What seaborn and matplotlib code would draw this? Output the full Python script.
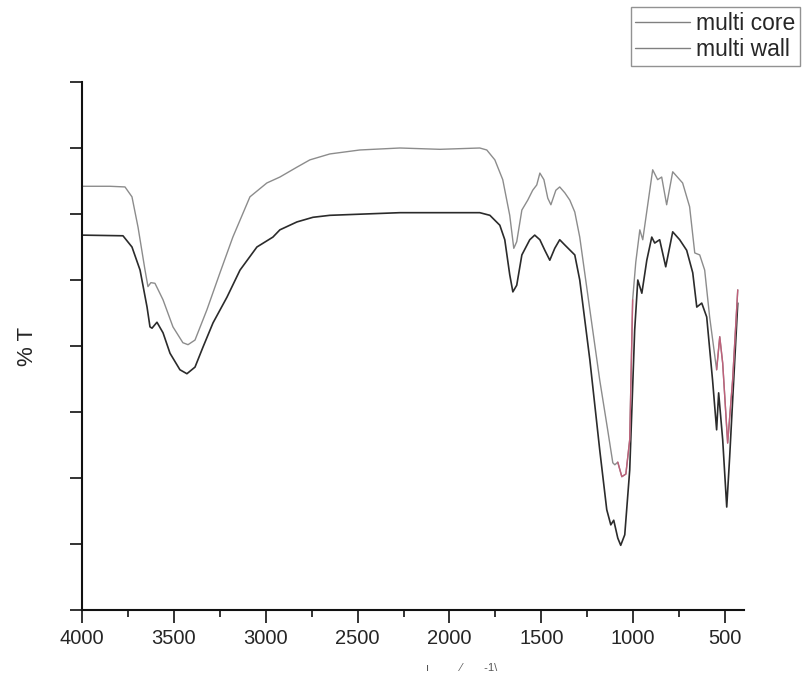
# FTIR spectra: multi core vs multi wall
import matplotlib
matplotlib.use("Agg")
import matplotlib.pyplot as plt
import seaborn as sns
import pandas as pd

# multi wall (upper trace)
wall_wn = [4000, 3848, 3766, 3728, 3695, 3657, 3641, 3625, 3603, 3587, 3559, 3505,
           3451, 3423, 3385, 3320, 3249, 3179, 3086, 2994, 2923, 2830, 2760, 2651,
           2488, 2270, 2052, 1835, 1797, 1753, 1710, 1672, 1650, 1634, 1606, 1574,
           1547, 1525, 1508, 1486, 1465, 1448, 1421, 1400, 1372, 1345, 1318, 1291,
           1236, 1182, 1139, 1111, 1100, 1084, 1062, 1040, 1019, 1003, 986, 964,
           948, 921, 894, 867, 845, 818, 785, 731, 693, 665, 638, 611, 584, 546,
           529, 513, 486, 459, 431]
wall_t = [64.2, 64.2, 64.1, 62.6, 58.0, 51.5, 49.0, 49.6, 49.5, 48.6, 47.0, 42.9,
          40.5, 40.2, 40.9, 45.5, 51.1, 56.5, 62.6, 64.7, 65.6, 67.1, 68.2, 69.1,
          69.7, 70.0, 69.8, 70.0, 69.7, 68.2, 65.2, 59.8, 54.8, 55.8, 60.6, 62.1,
          63.6, 64.4, 66.2, 65.2, 62.4, 61.4, 63.6, 64.1, 63.2, 62.1, 60.3, 56.5,
          45.5, 34.8, 27.3, 22.3, 22.0, 22.4, 20.2, 20.6, 25.8, 47.0, 52.7, 57.6,
          56.1, 61.4, 66.7, 65.2, 65.6, 61.4, 66.4, 64.7, 61.1, 54.1, 53.8, 51.5,
          44.4, 36.4, 41.4, 37.4, 25.3, 34.8, 48.5]

# multi core (lower trace)
core_wn = [4000, 3777, 3728, 3684, 3646, 3630, 3619, 3592, 3559, 3521, 3467, 3429,
           3385, 3342, 3287, 3211, 3140, 3048, 2961, 2923, 2830, 2743, 2651, 2270,
           1835, 1780, 1726, 1699, 1672, 1655, 1634, 1606, 1563, 1536, 1508, 1481,
           1454, 1427, 1400, 1372, 1318, 1291, 1236, 1182, 1144, 1122, 1106, 1084,
           1068, 1046, 1019, 992, 975, 953, 926, 899, 883, 856, 823, 785, 747, 709,
           676, 654, 627, 600, 568, 546, 535, 513, 491, 475, 431]
core_t = [56.8, 56.7, 55.0, 51.5, 45.9, 42.9, 42.7, 43.6, 42.0, 38.9, 36.4, 35.8,
          36.8, 39.8, 43.5, 47.4, 51.5, 55.0, 56.5, 57.6, 58.8, 59.5, 59.8, 60.2,
          60.2, 59.8, 58.3, 56.1, 50.8, 48.2, 49.2, 53.8, 56.1, 56.8, 56.1, 54.5,
          53.0, 54.8, 56.1, 55.3, 53.8, 50.0, 37.9, 24.2, 15.2, 12.9, 13.6, 10.9,
          9.8, 11.4, 21.2, 42.4, 50.0, 48.0, 53.0, 56.5, 55.6, 56.1, 52.0, 57.3,
          56.1, 54.5, 51.1, 45.9, 46.5, 44.4, 34.8, 27.3, 32.9, 25.8, 15.6, 23.2, 46.5]

x_ticks = [4000, 3500, 3000, 2500, 2000, 1500, 1000, 500]

core = pd.DataFrame({"wn": core_wn, "T": core_t})
wall = pd.DataFrame({"wn": wall_wn, "T": wall_t})

sns.set_style("ticks")
plt.rcParams["font.family"] = ["Liberation Sans", "DejaVu Sans"]

fig = plt.figure(figsize=(8.03, 6.81), dpi=100)
ax = fig.add_axes([82 / 803, 1 - 610 / 681, (744 - 82) / 803, (610 - 82) / 681])

sns.lineplot(data=core, x="wn", y="T", ax=ax, color="#2b2b2b", lw=1.2,
             estimator=None, sort=False, label="multi core")
sns.lineplot(data=wall, x="wn", y="T", ax=ax, color="#8c8c8c", lw=1.0,
             estimator=None, sort=False, label="multi wall")
# faded red tint visible on parts of the upper trace
for lo, hi in [(1000, 1095), (420, 560)]:
    seg = wall[(wall.wn >= lo) & (wall.wn <= hi)]
    sns.lineplot(data=seg, x="wn", y="T", ax=ax, color="#c0607a", lw=1.0,
                 estimator=None, sort=False, legend=False)

ax.set_xlim(4000, 397)
ax.set_ylim(0, 80)
ax.set_xticks(x_ticks)
ax.set_xticks([3750, 3250, 2750, 2250, 1750, 1250, 750], minor=True)
ax.set_yticks(range(0, 81, 10))
ax.set_yticklabels([])
ax.tick_params(axis="both", which="major", length=9, width=1.2, color="#111",
               labelsize=14.5, direction="out", pad=5)
ax.tick_params(axis="x", which="minor", length=5, width=1.2, color="#111")
sns.despine(ax=ax)
for s in ["left", "bottom"]:
    ax.spines[s].set_linewidth(1.5)
    ax.spines[s].set_color("#111")

ax.set_ylabel("% T", fontsize=16, labelpad=18)
ax.set_xlabel("ı          ⁄       -1\\", fontsize=8, color="#555")
ax.xaxis.set_label_coords((462 - 82) / 662, -0.1)

ax.legend(loc="upper right", bbox_to_anchor=(800 / 803, 1 - 7 / 681),
          bbox_transform=fig.transFigure, frameon=True, fancybox=False,
          edgecolor="#777", fontsize=16.5, handlelength=2.4, borderpad=0.2,
          labelspacing=0.15, handletextpad=0.25, borderaxespad=0)
leg = ax.get_legend()
leg.get_frame().set_linewidth(1.0)
for line in leg.get_lines():
    line.set_color("#808080")
    line.set_linewidth(1.0)

fig.savefig("out.png", dpi=100, facecolor="white")
